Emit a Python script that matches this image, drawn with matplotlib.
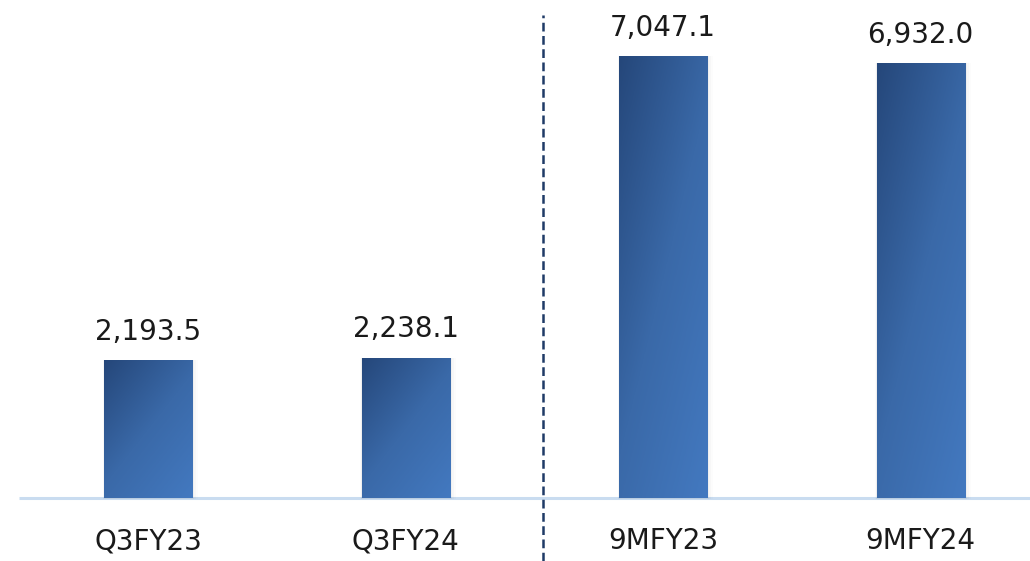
import numpy as np
import matplotlib.pyplot as plt
from matplotlib.colors import LinearSegmentedColormap
from matplotlib.patches import Rectangle

# chart data
categories = ["Q3FY23", "Q3FY24", "9MFY23", "9MFY24"]
values = [2193.5, 2238.1, 7047.1, 6932.0]
value_labels = ["2,193.5", "2,238.1", "7,047.1", "6,932.0"]

plt.rcParams['font.family'] = ['DejaVu Sans']

fig = plt.figure(figsize=(10.30, 5.61), dpi=100)
ax = fig.add_axes([0, 0, 1, 1])
ax.set_xlim(-0.575, 3.425)
ax.set_ylim(-1005, 7940)
ax.axis("off")

grad = LinearSegmentedColormap.from_list("bar", ["#25477a", "#3a69a8", "#4379c0"])
# diagonal gradient: dark top-left -> light bottom-right
gx, gy = np.meshgrid(np.linspace(0, 1, 100), np.linspace(0, 1, 200))
img = 0.45 * gx + 0.55 * gy  # row 0 = top when origin='upper'

x = np.arange(len(categories))
width = 0.342
bars = ax.bar(x, values, width=width, color="none", edgecolor="none", zorder=3)
for b, v, lab in zip(bars, values, value_labels):
    x0 = b.get_x()
    # faint shadow, offset right/down
    for k, a in enumerate([0.03, 0.02, 0.012]):
        pad = 0.006 * (k + 1)
        ax.add_patch(Rectangle((x0 - pad * 0.3, -20), width + pad * 1.6, v + 20,
                               facecolor="black", alpha=a, edgecolor="none", zorder=2))
    im = ax.imshow(img, cmap=grad, extent=(x0, x0 + width, 0, v), origin="upper",
                   aspect="auto", zorder=3, vmin=0, vmax=1)
    im.set_clip_path(b)
    ax.text(b.get_x() + width / 2, v + 230, lab, ha="center", va="bottom",
            fontsize=20, color="#1a1a1a", zorder=4)

for xi, c in zip(x, categories):
    ax.text(xi, -690, c, ha="center", va="center", fontsize=20, color="#1a1a1a")

# baseline
ax.plot([-0.5, 3.425], [0, 0], color="#c9dcf0", lw=2.2, zorder=1, solid_capstyle="butt")
# dashed divider between quarter and nine-month figures
ax.plot([1.535, 1.535], [-1005, 7700], color="#1f3a66", lw=1.8,
        linestyle=(0, (3.5, 1.8)), zorder=5)

fig.savefig("out.png", dpi=100)
